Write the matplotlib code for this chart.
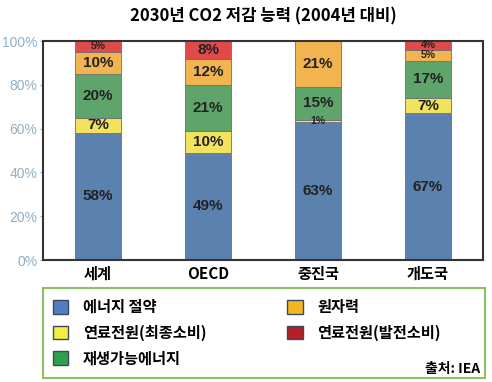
import matplotlib
matplotlib.use("Agg")
import matplotlib.pyplot as plt
from matplotlib.patches import Patch, Rectangle
import numpy as np

plt.rcParams['font.family'] = ['Noto Sans CJK KR', 'DejaVu Sans']

categories = ['세계', 'OECD', '중진국', '개도국']
series_names = ['에너지 절약', '연료전원(최종소비)', '재생가능에너지', '원자력', '연료전원(발전소비)']
energy_saving = [58, 49, 63, 67]
fuel_final = [7, 10, 1, 7]
renewable = [20, 21, 15, 17]
nuclear = [10, 12, 21, 5]
fuel_power = [5, 8, 0, 4]
series = [energy_saving, fuel_final, renewable, nuclear, fuel_power]
bar_colors = ['#5B81AE', '#F2E25E', '#5FA56B', '#F2B450', '#E04A4A']
legend_colors = ['#4F7FBF', '#F5EE40', '#2EA24B', '#F5B61E', '#B41F27']
yticks = [0, 20, 40, 60, 80, 100]
ytick_labels = ['0%', '20%', '40%', '60%', '80%', '100%']

fig = plt.figure(figsize=(4.92, 3.82), dpi=100)
ax = fig.add_axes([43/492, 1-260/382, 440/492, 219/382])

x = np.arange(len(categories))
bottom = np.zeros(len(categories))
for vals, col in zip(series, bar_colors):
    vals = np.array(vals, dtype=float)
    ax.bar(x, vals, bottom=bottom, width=0.41, color=col, edgecolor='#707070', linewidth=0.6)
    for xi, v, b in zip(x, vals, bottom):
        if v > 0:
            ax.text(xi, b + v/2, f'{int(v)}%', ha='center', va='center',
                    fontsize=11 if v >= 6 else 7.5, fontweight='bold', color='#222222',
                    family=['Liberation Sans', 'DejaVu Sans'])
    bottom += vals

ax.set_xlim(-0.5, 3.5)
ax.set_ylim(0, 100)
ax.set_xticks(x)
ax.set_xticklabels(categories, fontsize=11, fontweight='bold')
ax.set_yticks(yticks)
ax.set_yticklabels(ytick_labels, fontsize=10, color='#8FB0C8', family=['Liberation Sans', 'DejaVu Sans'])
ax.tick_params(axis='x', length=0, pad=4)
ax.tick_params(axis='y', length=2, color='#8FB0C8', pad=2)
for s in ax.spines.values():
    s.set_color('#333333')
    s.set_linewidth(1.5)

fig.text(263/492, 1-16/382, '2030년 CO2 저감 능력 (2004년 대비)', ha='center', va='center',
         fontsize=12, fontweight='bold')

# legend frame
fig.patches.append(Rectangle((43/492, 1-378/382), 442/492, 90/382, transform=fig.transFigure,
                             fill=False, edgecolor='#8CC063', linewidth=1.5))
handles = [Patch(facecolor=c, edgecolor='#3A4A60', linewidth=1.0) for c in legend_colors]
fig.legend(handles, series_names, loc='upper left', bbox_to_anchor=(47/492, 1-293/382),
           ncol=2, frameon=False, prop={'size': 11, 'weight': 'bold'},
           handlelength=1.0, handleheight=1.0, handletextpad=0.95, columnspacing=5.3,
           labelspacing=0.62, borderaxespad=0)
fig.text(480/492, 1-369/382, '출처: IEA', ha='right', va='center', fontsize=10, fontweight='bold')

fig.savefig('out.png', dpi=100)
